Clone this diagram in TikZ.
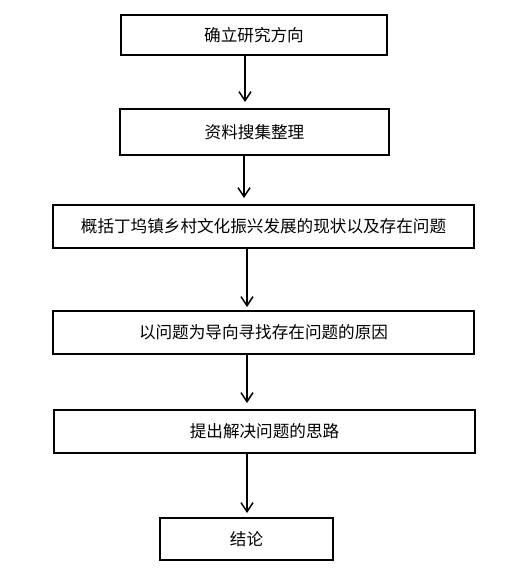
\documentclass[tikz,border=0pt]{standalone}
\usepackage{fontspec}
\newfontfamily\cjk{Noto Sans CJK SC}
\usetikzlibrary{arrows.meta}
\begin{document}
\begin{tikzpicture}[x=1bp,y=-1bp,
  boxstyle/.style={draw=black, line width=2bp, rectangle, inner sep=0pt, font=\cjk\fontsize{16.6bp}{19bp}\selectfont, anchor=north west},
  arrowstyle/.style={line width=1.5bp, -{Straight Barb[length=9bp,width=12bp,line width=1.5bp]}, shorten >=6bp}]
\useasboundingbox (0,0) rectangle (513,572);
\fill[white] (0,0) rectangle (513,572);
\node[boxstyle, minimum width=266bp, minimum height=40bp] (b1) at (120,14) {确立研究方向};
\node[boxstyle, minimum width=269bp, minimum height=46bp] (b2) at (119,108) {资料搜集整理};
\node[boxstyle, minimum width=421bp, minimum height=43bp] (b3) at (52,204) {概括丁坞镇乡村文化振兴发展的现状以及存在问题};
\node[boxstyle, minimum width=421bp, minimum height=43bp] (b4) at (52,310) {以问题为导向寻找存在问题的原因};
\node[boxstyle, minimum width=421bp, minimum height=43bp] (b5) at (53,409) {提出解决问题的思路};
\node[boxstyle, minimum width=173bp, minimum height=42bp] (b6) at (159,517) {结论};
\coordinate (x1) at (245,0);
\coordinate (x2) at (244,0);
\coordinate (x3) at (247,0);
\coordinate (x4) at (247,0);
\coordinate (x5) at (247,0);
\draw[arrowstyle] (b1.south -| x1) -- (b2.north -| x1);
\draw[arrowstyle] (b2.south -| x2) -- (b3.north -| x2);
\draw[arrowstyle, shorten >=3bp] (b3.south -| x3) -- (b4.north -| x3);
\draw[arrowstyle] (b4.south -| x4) -- (b5.north -| x4);
\draw[arrowstyle, shorten >=4bp] (b5.south -| x5) -- (b6.north -| x5);
\end{tikzpicture}
\end{document}
